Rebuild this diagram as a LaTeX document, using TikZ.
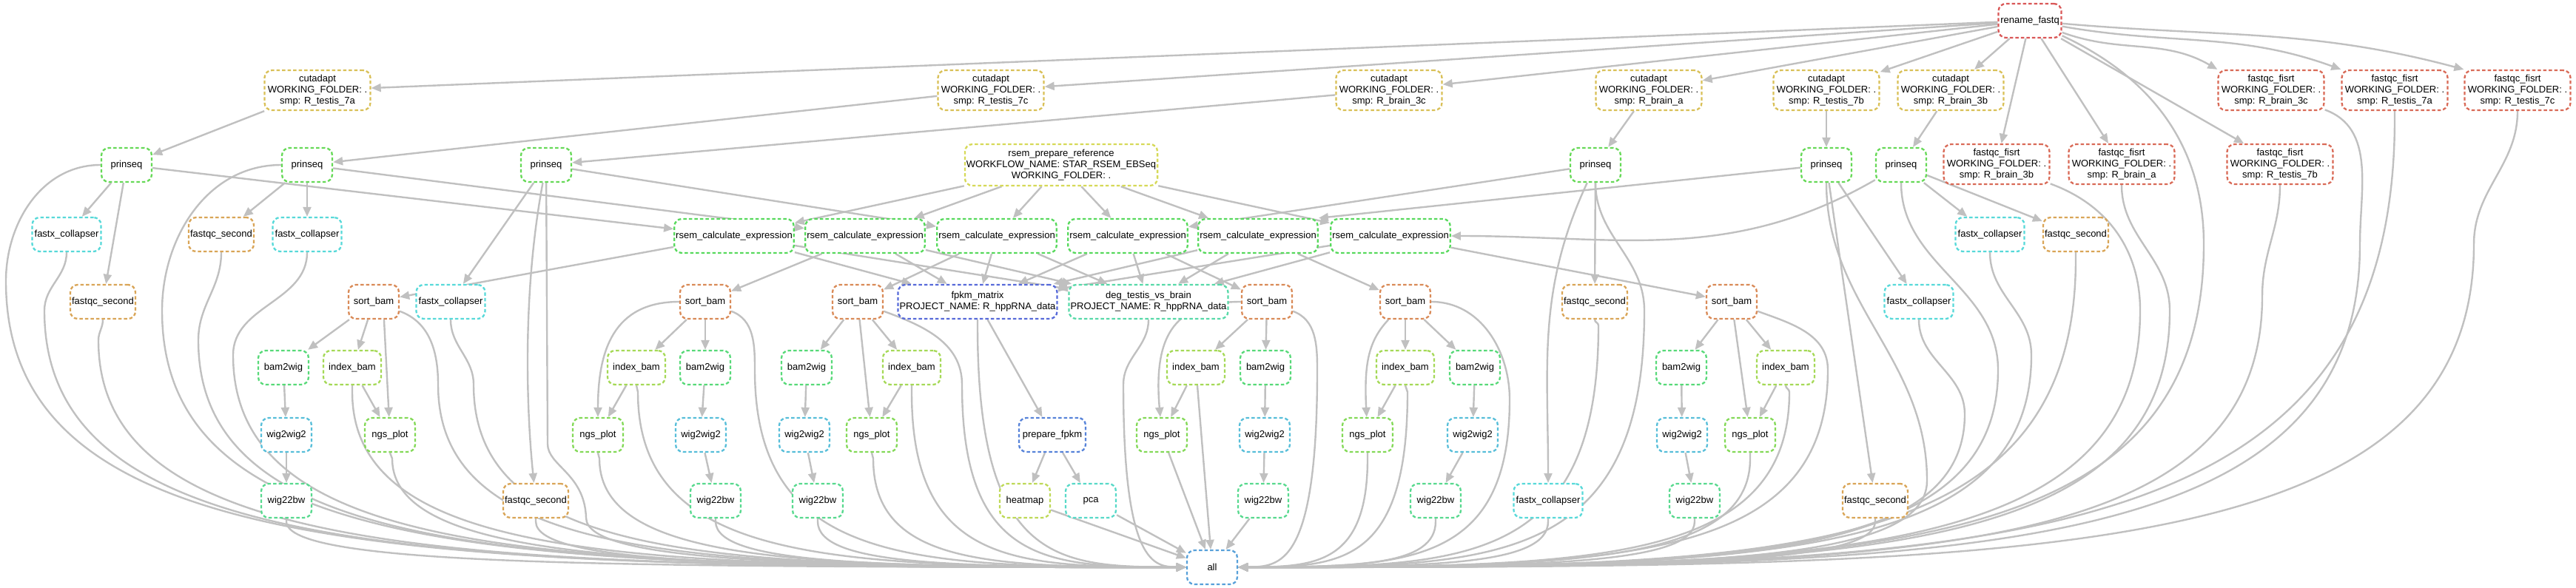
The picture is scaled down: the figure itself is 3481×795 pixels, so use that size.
\documentclass[tikz,border=0pt]{standalone}
\usepackage{fontspec}
\setmainfont{Liberation Sans}
\usepackage{tikz}
\usetikzlibrary{arrows.meta,calc,backgrounds}
\definecolor{rojo}{HTML}{D95757}
\definecolor{rojizo}{HTML}{D96A57}
\definecolor{naranja}{HTML}{D98A57}
\definecolor{ocre}{HTML}{D9A557}
\definecolor{dorado}{HTML}{D9C057}
\definecolor{amarillo}{HTML}{D6D957}
\definecolor{amarillolima}{HTML}{BED957}
\definecolor{lima}{HTML}{A5D957}
\definecolor{verdelima}{HTML}{83D957}
\definecolor{verdeprin}{HTML}{66D957}
\definecolor{verde}{HTML}{57D95C}
\definecolor{verdementa}{HTML}{57D978}
\definecolor{verdeagua}{HTML}{57D98E}
\definecolor{turquesa}{HTML}{57D9A8}
\definecolor{aguamarina}{HTML}{57D9C8}
\definecolor{cian}{HTML}{57D9D9}
\definecolor{celeste}{HTML}{57BED9}
\definecolor{azulcielo}{HTML}{57A0D9}
\definecolor{azulmedio}{HTML}{5783D9}
\definecolor{azulintenso}{HTML}{576AD9}
\definecolor{grisflecha}{HTML}{C0C0C0}

% arista larga hacia la regla all: baja en vertical y barre hacia all
\newcommand{\haciaall}[4][-90]{%
  \draw[flecha] (#2) to[out=#1,in=90] (#3,-#4)
    .. controls (#3,-765) and ($(#3,-766)!0.35!(all)$) .. (all);}

\begin{document}
\begin{tikzpicture}[
    x=1pt, y=1pt,
    caja/.style={draw, line width=2.3pt, dash pattern=on 4.5pt off 3pt,
      rounded corners=10pt, fill=white, minimum width=68pt, minimum height=46pt,
      inner xsep=2pt, inner ysep=3pt, align=center,
      font=\fontsize{13pt}{15pt}\selectfont},
    tres/.style={minimum width=143pt, minimum height=54pt},
    renombrar/.style={caja, draw=rojo, minimum width=85pt},
    calidaduno/.style={caja, tres, draw=rojizo},
    recorte/.style={caja, tres, draw=dorado},
    limpieza/.style={caja, draw=verdeprin},
    colapso/.style={caja, draw=cian, minimum width=93pt},
    calidaddos/.style={caja, draw=ocre, minimum width=88pt},
    referencia/.style={caja, draw=amarillo, minimum width=255pt, minimum height=56pt},
    expresion/.style={caja, draw=verde, minimum width=154pt},
    ordenar/.style={caja, draw=naranja},
    indice/.style={caja, draw=lima, minimum width=78pt},
    bamwig/.style={caja, draw=verdementa},
    wigwig/.style={caja, draw=celeste},
    wigbw/.style={caja, draw=verdeagua},
    perfil/.style={caja, draw=verdelima},
    matriz/.style={caja, draw=azulintenso, minimum width=209pt},
    difer/.style={caja, draw=turquesa, minimum width=209pt},
    prepara/.style={caja, draw=azulmedio, minimum width=90pt},
    mapacalor/.style={caja, draw=amarillolima},
    componentes/.style={caja, draw=aguamarina},
    final/.style={caja, draw=azulcielo},
    flecha/.style={-{Triangle[length=13pt,width=11pt]}, line width=2.4pt, draw=grisflecha}
  ]
    \useasboundingbox (0,0) rectangle (3481,-795);

    % fila 0 y 1
    \node[renombrar] (rename) at (2743,-28) {rename\_fastq};
    \node[recorte] (cut7a) at (429,-122) {cutadapt\\WORKING\_FOLDER: .\\smp: R\_testis\_7a};
    \node[recorte] (cut7c) at (1339,-122) {cutadapt\\WORKING\_FOLDER: .\\smp: R\_testis\_7c};
    \node[recorte] (cut3c) at (1877,-122) {cutadapt\\WORKING\_FOLDER: .\\smp: R\_brain\_3c};
    \node[recorte] (cutba) at (2228,-122) {cutadapt\\WORKING\_FOLDER: .\\smp: R\_brain\_a};
    \node[recorte] (cut7b) at (2468,-122) {cutadapt\\WORKING\_FOLDER: .\\smp: R\_testis\_7b};
    \node[recorte] (cut3b) at (2636,-122) {cutadapt\\WORKING\_FOLDER: .\\smp: R\_brain\_3b};
    \node[calidaduno] (ff3c) at (3069,-122) {fastqc\_fisrt\\WORKING\_FOLDER: .\\smp: R\_brain\_3c};
    \node[calidaduno] (ff7a) at (3236,-122) {fastqc\_fisrt\\WORKING\_FOLDER: .\\smp: R\_testis\_7a};
    \node[calidaduno] (ff7c) at (3402,-122) {fastqc\_fisrt\\WORKING\_FOLDER: .\\smp: R\_testis\_7c};

    % fila 2
    \node[limpieza] (prA) at (171,-223) {prinseq};
    \node[limpieza] (prB) at (415,-223) {prinseq};
    \node[limpieza] (prC) at (738,-223) {prinseq};
    \node[referencia] (rsemref) at (1434,-223) {rsem\_prepare\_reference\\WORKFLOW\_NAME: STAR\_RSEM\_EBSeq\\WORKING\_FOLDER: .};
    \node[limpieza] (prD) at (2156,-223) {prinseq};
    \node[limpieza] (prE) at (2468,-223) {prinseq};
    \node[limpieza] (prF) at (2569,-223) {prinseq};
    \node[calidaduno] (ff3b) at (2698,-222) {fastqc\_fisrt\\WORKING\_FOLDER: .\\smp: R\_brain\_3b};
    \node[calidaduno] (ffba) at (2867,-222) {fastqc\_fisrt\\WORKING\_FOLDER: .\\smp: R\_brain\_a};
    \node[calidaduno] (ff7b) at (3081,-222) {fastqc\_fisrt\\WORKING\_FOLDER: .\\smp: R\_testis\_7b};

    % fila 3
    \node[colapso] (fx1) at (90,-317) {fastx\_collapser};
    \node[calidaddos] (fqs2) at (299,-317) {fastqc\_second};
    \node[colapso] (fx2) at (415,-317) {fastx\_collapser};
    \node[expresion] (rsem1) at (992,-319) {rsem\_calculate\_expression};
    \node[expresion] (rsem2) at (1169,-319) {rsem\_calculate\_expression};
    \node[expresion] (rsem3) at (1347,-319) {rsem\_calculate\_expression};
    \node[expresion] (rsem4) at (1524,-319) {rsem\_calculate\_expression};
    \node[expresion] (rsem5) at (1700,-319) {rsem\_calculate\_expression};
    \node[expresion] (rsem6) at (1879,-319) {rsem\_calculate\_expression};
    \node[colapso] (fx6) at (2689,-317) {fastx\_collapser};
    \node[calidaddos] (fqs6) at (2805,-317) {fastqc\_second};

    % fila 4
    \node[calidaddos] (fqs1) at (139,-408) {fastqc\_second};
    \node[ordenar] (sb1) at (505,-408) {sort\_bam};
    \node[colapso] (fx3) at (609,-408) {fastx\_collapser};
    \node[ordenar] (sb2) at (953,-408) {sort\_bam};
    \node[ordenar] (sb3) at (1159,-408) {sort\_bam};
    \node[matriz] (fpkm) at (1321,-408) {fpkm\_matrix\\PROJECT\_NAME: R\_hppRNA\_data};
    \node[difer] (deg) at (1552,-408) {deg\_testis\_vs\_brain\\PROJECT\_NAME: R\_hppRNA\_data};
    \node[ordenar] (sb4) at (1712,-408) {sort\_bam};
    \node[ordenar] (sb5) at (1899,-408) {sort\_bam};
    \node[calidaddos] (fqs4) at (2155,-408) {fastqc\_second};
    \node[ordenar] (sb6) at (2340,-408) {sort\_bam};
    \node[colapso] (fx5) at (2593,-408) {fastx\_collapser};

    % fila 5
    \node[bamwig] (bw1) at (383,-497) {bam2wig};
    \node[indice] (ib1) at (476,-497) {index\_bam};
    \node[indice] (ib2) at (860,-497) {index\_bam};
    \node[bamwig] (bw2) at (953,-497) {bam2wig};
    \node[bamwig] (bw3) at (1090,-497) {bam2wig};
    \node[indice] (ib3) at (1232,-497) {index\_bam};
    \node[indice] (ib4) at (1616,-497) {index\_bam};
    \node[bamwig] (bw4) at (1710,-497) {bam2wig};
    \node[indice] (ib5) at (1899,-497) {index\_bam};
    \node[bamwig] (bw5) at (1993,-497) {bam2wig};
    \node[bamwig] (bw6) at (2272,-497) {bam2wig};
    \node[indice] (ib6) at (2413,-497) {index\_bam};

    % fila 6
    \node[wigwig] (ww1) at (387,-588) {wig2wig2};
    \node[perfil] (ng1) at (527,-588) {ngs\_plot};
    \node[perfil] (ng2) at (808,-588) {ngs\_plot};
    \node[wigwig] (ww2) at (947,-588) {wig2wig2};
    \node[wigwig] (ww3) at (1087,-588) {wig2wig2};
    \node[perfil] (ng3) at (1178,-588) {ngs\_plot};
    \node[prepara] (prepfpkm) at (1422,-588) {prepare\_fpkm};
    \node[perfil] (ng4) at (1570,-588) {ngs\_plot};
    \node[wigwig] (ww4) at (1709,-588) {wig2wig2};
    \node[perfil] (ng5) at (1848,-588) {ngs\_plot};
    \node[wigwig] (ww5) at (1990,-588) {wig2wig2};
    \node[wigwig] (ww6) at (2273,-588) {wig2wig2};
    \node[perfil] (ng6) at (2365,-588) {ngs\_plot};

    % fila 7 y 8
    \node[wigbw] (wb1) at (387,-677) {wig22bw};
    \node[calidaddos] (fqs3) at (724,-677) {fastqc\_second};
    \node[wigbw] (wb2) at (967,-677) {wig22bw};
    \node[wigbw] (wb3) at (1105,-677) {wig22bw};
    \node[mapacalor] (heatmap) at (1385,-677) {heatmap};
    \node[componentes] (pca) at (1474,-677) {pca};
    \node[wigbw] (wb4) at (1707,-677) {wig22bw};
    \node[wigbw] (wb5) at (1940,-677) {wig22bw};
    \node[colapso] (fx4) at (2092,-677) {fastx\_collapser};
    \node[wigbw] (wb6) at (2290,-677) {wig22bw};
    \node[calidaddos] (fqs5) at (2534,-677) {fastqc\_second};
    \node[final] (all) at (1638,-767) {all};

    \begin{pgfonlayer}{background}
    % rename_fastq
    \draw[flecha] (rename) -- (cut7a);
    \draw[flecha] (rename) -- (cut7c);
    \draw[flecha] (rename) -- (cut3c);
    \draw[flecha] (rename) -- (cutba);
    \draw[flecha] (rename) -- (cut7b);
    \draw[flecha] (rename) -- (cut3b);
    \draw[flecha] (rename) -- (ff3b);
    \draw[flecha] (rename) -- (ffba);
    \draw[flecha] (rename) -- (ff7b);
    \draw[flecha] (rename) to[out=-20,in=150] (ff3c.north west);
    \draw[flecha] (rename) to[out=-10,in=160] (ff7a.north west);
    \draw[flecha] (rename) to[out=-5,in=165] (ff7c.north west);

    % cutadapt -> prinseq
    \draw[flecha] (cut7a) -- (prA);
    \draw[flecha] (cut7c) -- (prB);
    \draw[flecha] (cut3c) -- (prC);
    \draw[flecha] (cutba) -- (prD);
    \draw[flecha] (cut7b) -- (prE);
    \draw[flecha] (cut3b) -- (prF);

    % prinseq
    \draw[flecha] (prA) -- (fx1);
    \draw[flecha] (prA) -- (fqs1);
    \draw[flecha] (prA) -- (rsem1);
    \draw[flecha] (prB) -- (fqs2);
    \draw[flecha] (prB) -- (fx2);
    \draw[flecha] (prB) -- (rsem2);
    \draw[flecha] (prC) -- (fx3);
    \draw[flecha] (prC) .. controls (705,-400) and (712,-560) .. (fqs3);
    \draw[flecha] (prC) -- (rsem3);
    \draw[flecha] (prD) -- (fqs4);
    \draw[flecha] (prD) to[out=-115,in=90] (fx4);
    \draw[flecha] (prD) -- (rsem4);
    \draw[flecha] (prE) -- (fx5);
    \draw[flecha] (prE) -- (fqs5);
    \draw[flecha] (prE) -- (rsem5.north east);
    \draw[flecha] (prF) -- (fx6);
    \draw[flecha] (prF) -- (fqs6);
    \draw[flecha] (prF) to[out=-150,in=0] (rsem6);

    % rsem_prepare_reference
    \draw[flecha] (rsemref) -- (rsem1);
    \draw[flecha] (rsemref) -- (rsem2);
    \draw[flecha] (rsemref) -- (rsem3);
    \draw[flecha] (rsemref) -- (rsem4);
    \draw[flecha] (rsemref) -- (rsem5);
    \draw[flecha] (rsemref) -- (rsem6);

    % rsem_calculate_expression
    \draw[flecha] (rsem1) -- (sb1);
    \draw[flecha] (rsem2) -- (sb2);
    \draw[flecha] (rsem3) -- (sb3);
    \draw[flecha] (rsem4) -- (sb4);
    \draw[flecha] (rsem5) -- (sb5);
    \draw[flecha] (rsem6) -- (sb6);
    \draw[flecha] (rsem1) -- (fpkm);
    \draw[flecha] (rsem2) -- (fpkm);
    \draw[flecha] (rsem3) -- (fpkm);
    \draw[flecha] (rsem4) -- (fpkm);
    \draw[flecha] (rsem5) -- (fpkm);
    \draw[flecha] (rsem6) -- (fpkm);
    \draw[flecha] (rsem1) -- (deg);
    \draw[flecha] (rsem2) -- (deg);
    \draw[flecha] (rsem3) -- (deg);
    \draw[flecha] (rsem4) -- (deg);
    \draw[flecha] (rsem5) -- (deg);
    \draw[flecha] (rsem6) -- (deg);

    % sort_bam y sus ramas
    \draw[flecha] (sb1) -- (bw1);
    \draw[flecha] (sb1) -- (ib1);
    \draw[flecha] (sb1.-60) -- (ng1);
    \draw[flecha] (ib1) -- (ng1);
    \draw[flecha] (bw1) -- (ww1);
    \draw[flecha] (ww1) -- (wb1);
    \draw[flecha] (sb2) -- (bw2);
    \draw[flecha] (sb2) -- (ib2);
    \draw[flecha] (sb2) to[out=180,in=90,looseness=1.2] (ng2);
    \draw[flecha] (ib2) -- (ng2);
    \draw[flecha] (bw2) -- (ww2);
    \draw[flecha] (ww2) -- (wb2);
    \draw[flecha] (sb3) -- (bw3);
    \draw[flecha] (sb3) -- (ib3);
    \draw[flecha] (sb3) -- (ng3);
    \draw[flecha] (ib3) -- (ng3);
    \draw[flecha] (bw3) -- (ww3);
    \draw[flecha] (ww3) -- (wb3);
    \draw[flecha] (sb4) -- (ib4);
    \draw[flecha] (sb4) -- (bw4);
    \draw[flecha] (sb4) .. controls (1590,-408) and (1558,-450) .. (ng4);
    \draw[flecha] (ib4) -- (ng4);
    \draw[flecha] (bw4) -- (ww4);
    \draw[flecha] (ww4) -- (wb4);
    \draw[flecha] (sb5) -- (ib5);
    \draw[flecha] (sb5) -- (bw5);
    \draw[flecha] (sb5) .. controls (1850,-460) and (1843,-490) .. (ng5);
    \draw[flecha] (ib5) -- (ng5);
    \draw[flecha] (bw5) -- (ww5);
    \draw[flecha] (ww5) -- (wb5);
    \draw[flecha] (sb6) -- (bw6);
    \draw[flecha] (sb6) -- (ib6);
    \draw[flecha] (sb6) -- (ng6);
    \draw[flecha] (ib6) -- (ng6);
    \draw[flecha] (bw6) -- (ww6);
    \draw[flecha] (ww6) -- (wb6);

    % fpkm_matrix
    \draw[flecha] (fpkm) -- (prepfpkm);
    \draw[flecha] (prepfpkm) -- (heatmap);
    \draw[flecha] (prepfpkm) -- (pca);

    % todo hacia all
    \haciaall[180]{prA}{8}{380}
    \haciaall{fx1}{60}{420}
    \haciaall{fqs1}{133}{460}
    \haciaall[180]{prB}{219}{420}
    \haciaall{fqs2}{268}{460}
    \haciaall{fx2}{315}{480}
    \haciaall{wb1}{387}{705}
    \haciaall{ib1}{476}{530}
    \haciaall{ng1}{530}{620}
    \haciaall[-20]{sb1}{592}{520}
    \haciaall{fx3}{640}{520}
    \haciaall{fqs3}{724}{705}
    \draw[flecha] (prC) -- (740,-600) .. controls (740,-630) and (790,-640) .. (792,-700)
      .. controls (792,-760) and ($(792,-766)!0.35!(all)$) .. (all);
    \haciaall{ng2}{810}{620}
    \haciaall{ib2}{862}{530}
    \haciaall{wb2}{967}{705}
    \haciaall[-20]{sb2}{1020}{500}
    \haciaall{wb3}{1105}{705}
    \haciaall{ng3}{1180}{620}
    \haciaall{ib3}{1232}{530}
    \haciaall[-20]{sb3}{1300}{520}
    \haciaall{fpkm}{1321}{440}
    \haciaall{deg}{1518}{520}
    \draw[flecha] (heatmap) -- (all);
    \draw[flecha] (pca) -- (all);
    \draw[flecha] (ng4) -- (all);
    \draw[flecha] (ib4) -- (all);
    \draw[flecha] (wb4) -- (all);
    \haciaall[-20]{sb4}{1780}{500}
    \haciaall{ng5}{1848}{620}
    \haciaall{ib5}{1902}{530}
    \haciaall{wb5}{1940}{705}
    \haciaall[0]{sb5}{2040}{540}
    \haciaall{fx4}{2092}{705}
    \haciaall{fqs4}{2160}{440}
    \haciaall{prD}{2222}{420}
    \haciaall{wb6}{2290}{705}
    \haciaall{ng6}{2365}{620}
    \haciaall{ib6}{2418}{530}
    \haciaall[-20]{sb6}{2470}{500}
    \haciaall{fqs5}{2534}{705}
    \haciaall{prE}{2604}{650}
    \haciaall{fx5}{2655}{560}
    \haciaall{prF}{2700}{500}
    \haciaall{fx6}{2745}{480}
    \haciaall{fqs6}{2805}{350}
    \haciaall[-20]{ff3b}{2892}{420}
    \haciaall{ffba}{2932}{420}
    \haciaall[-25]{rename}{2978}{330}
    \haciaall{ff7b}{3057}{400}
    \haciaall[-20]{ff3c}{3189}{330}
    \haciaall{ff7a}{3236}{160}
    \haciaall{ff7c}{3343}{330}
    \end{pgfonlayer}
  \end{tikzpicture}
\end{document}
